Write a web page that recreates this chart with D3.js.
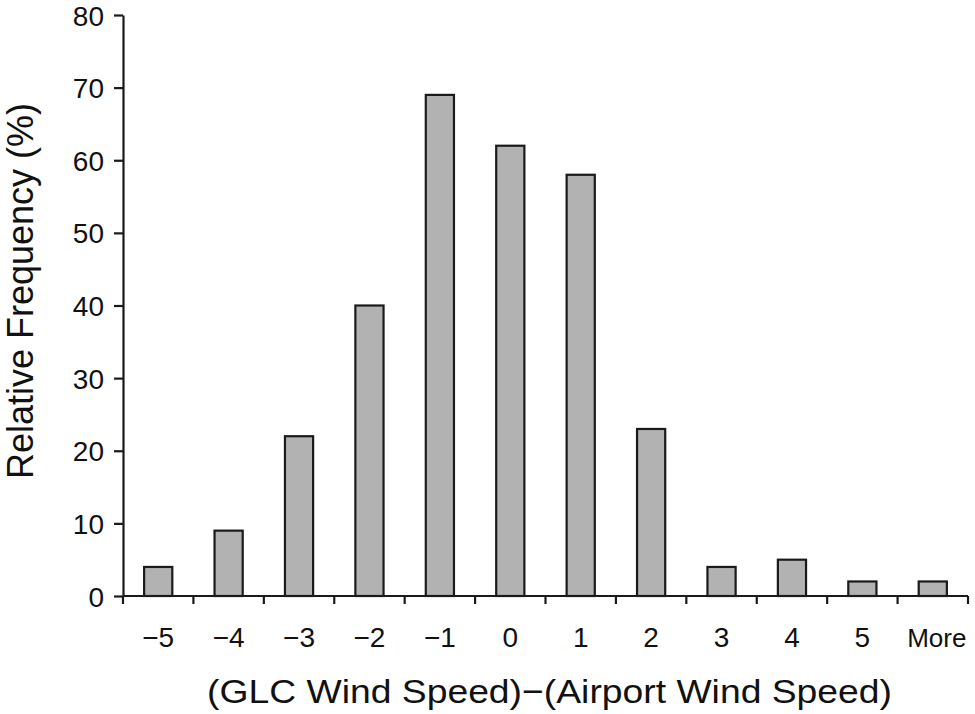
<!DOCTYPE html>
<html>
<head>
<meta charset="utf-8">
<script src="https://cdn.jsdelivr.net/npm/d3@7"></script>
<style>
  body { margin: 0; background: #fff; }
  text { font-family: "Liberation Sans", Arial, sans-serif; fill: #111; }
</style>
</head>
<body>
<div id="chart"></div>
<script>
// data
var categories = ["\u22125", "\u22124", "\u22123", "\u22122", "\u22121", "0", "1", "2", "3", "4", "5", "More"]
var frequency = [4, 9, 22, 40, 69, 62, 58, 23, 4, 5, 2, 2]
var yTicks = [0, 10, 20, 30, 40, 50, 60, 70, 80]

var width = 975, height = 714
var margin = {top: 15, right: 7, bottom: 118, left: 123}

var svg = d3.select("#chart").append("svg")
  .attr("width", width)
  .attr("height", height)

var x = d3.scaleBand()
  .domain(categories)
  .range([margin.left, width - margin.right])

var step = x.step()
var bw = step * 0.4

var y = d3.scaleLinear()
  .domain([0, 80])
  .range([height - margin.bottom, margin.top])

var base = y(0)

// bars
svg.append("g")
  .selectAll("rect")
  .data(frequency)
  .join("rect")
  .attr("x", (d, i) => x(categories[i]) + (step - bw) / 2)
  .attr("y", d => y(d))
  .attr("width", bw)
  .attr("height", d => base - y(d))
  .attr("fill", "#b2b2b2")
  .attr("stroke", "#1a1a1a")
  .attr("stroke-width", 2.2)

// y axis
var yAxis = svg.append("g")
  .attr("transform", `translate(${margin.left},0)`)
  .call(d3.axisLeft(y).tickValues(yTicks).tickSize(9).tickSizeOuter(0).tickPadding(10))
yAxis.select(".domain").attr("stroke", "#1a1a1a").attr("stroke-width", 2.2)
yAxis.selectAll(".tick line").attr("stroke", "#1a1a1a").attr("stroke-width", 2.2)
yAxis.selectAll(".tick text").attr("font-size", 28).attr("dy", "0.36em")

// x axis: line with ticks at category boundaries
var xg = svg.append("g")
xg.append("line")
  .attr("x1", margin.left).attr("x2", width - margin.right)
  .attr("y1", base).attr("y2", base)
  .attr("stroke", "#1a1a1a").attr("stroke-width", 2.2)
xg.selectAll(".bt")
  .data(d3.range(categories.length + 1))
  .join("line")
  .attr("class", "bt")
  .attr("x1", i => margin.left + step * i).attr("x2", i => margin.left + step * i)
  .attr("y1", base).attr("y2", base + 8)
  .attr("stroke", "#1a1a1a").attr("stroke-width", 2.2)
xg.selectAll(".lab")
  .data(categories)
  .join("text")
  .attr("class", "lab")
  .attr("x", d => x(d) + step / 2 + (d == "More" ? 4 : 0))
  .attr("y", 647)
  .attr("text-anchor", "middle")
  .attr("font-size", d => d == "More" ? 26 : 28)
  .text(d => d)

// axis titles
svg.append("text")
  .attr("x", 549.5)
  .attr("y", 703)
  .attr("text-anchor", "middle")
  .attr("font-size", 34)
  .attr("textLength", 685)
  .attr("lengthAdjust", "spacingAndGlyphs")
  .text("(GLC Wind Speed)\u2212(Airport Wind Speed)")

svg.append("text")
  .attr("transform", "translate(33,291) rotate(-90)")
  .attr("text-anchor", "middle")
  .attr("font-size", 36)
  .text("Relative Frequency (%)")
</script>
</body>
</html>
